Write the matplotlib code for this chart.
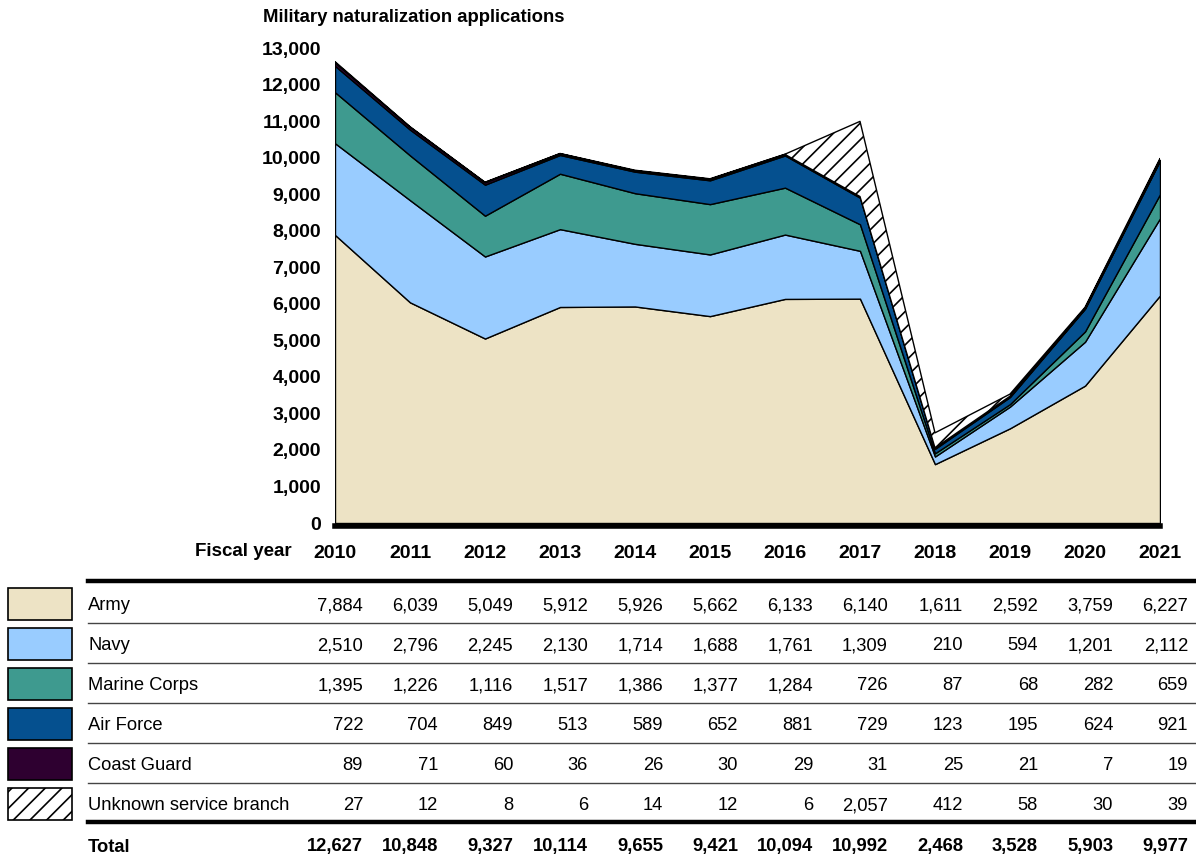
import matplotlib
matplotlib.use("Agg")
import matplotlib.pyplot as plt
from matplotlib.patches import Rectangle
import numpy as np

plt.rcParams['font.family'] = ['Liberation Sans', 'DejaVu Sans']
plt.rcParams['hatch.linewidth'] = 1.2

years = [2010, 2011, 2012, 2013, 2014, 2015, 2016, 2017, 2018, 2019, 2020, 2021]
branches = ["Army", "Navy", "Marine Corps", "Air Force", "Coast Guard", "Unknown service branch"]
army = [7884, 6039, 5049, 5912, 5926, 5662, 6133, 6140, 1611, 2592, 3759, 6227]
navy = [2510, 2796, 2245, 2130, 1714, 1688, 1761, 1309, 210, 594, 1201, 2112]
marine = [1395, 1226, 1116, 1517, 1386, 1377, 1284, 726, 87, 68, 282, 659]
airforce = [722, 704, 849, 513, 589, 652, 881, 729, 123, 195, 624, 921]
coastguard = [89, 71, 60, 36, 26, 30, 29, 31, 25, 21, 7, 19]
unknown = [27, 12, 8, 6, 14, 12, 6, 2057, 412, 58, 30, 39]
totals = [12627, 10848, 9327, 10114, 9655, 9421, 10094, 10992, 2468, 3528, 5903, 9977]
yticks = list(range(0, 13001, 1000))

colors = ["#EDE3C5", "#99CCFF", "#3E9A8F", "#05508F", "#2E0030", "white"]
hatches = [None, None, None, None, None, "//"]
series = [army, navy, marine, airforce, coastguard, unknown]

W, H = 1196, 858
fig = plt.figure(figsize=(W / 100, H / 100), dpi=100)

def fx(px):
    return px / W

def fy(py):
    return 1 - py / H

ax = fig.add_axes([fx(335), fy(523), fx(1160) - fx(335), fy(48) - fy(523)])
polys = ax.stackplot(years, *series, colors=colors, edgecolor="black", linewidth=1.0)
for p, h in zip(polys, hatches):
    if h:
        p.set_hatch(h)
for s in ["top", "right", "left"]:
    ax.spines[s].set_visible(False)
ax.spines["bottom"].set_linewidth(4)
ax.spines["bottom"].set_position(("outward", 2))
ax.set_xlim(2010, 2021)
ax.set_ylim(0, 13000)
ax.set_yticks(yticks)
ax.set_yticklabels([f"{v:,}" for v in yticks], fontsize=14, fontweight="bold")
ax.set_xticks(years)
ax.set_xticklabels([str(y) for y in years], fontsize=14, fontweight="bold")
ax.tick_params(axis="y", length=0, pad=10)
ax.tick_params(axis="x", length=0, pad=13.5)

fig.text(fx(263), fy(18), "Military naturalization applications", fontsize=13.3,
         fontweight="bold", ha="left", va="center")
fig.text(fx(292), fy(552), "Fiscal year", fontsize=13.5, fontweight="bold",
         ha="right", va="center")

# table
row_y = [604, 644, 684, 724, 764, 804]
col_x = [363 + 75 * i for i in range(len(years))]
fs = 13.2
dy = 2
fig.add_artist(plt.Line2D([fx(88), fx(1196)], [fy(581), fy(581)], color="black", lw=3.2))
for i, (name, vals) in enumerate(zip(branches, series)):
    y = row_y[i]
    r = Rectangle((fx(8), fy(y + 16)), fx(64), fy(y - 16) - fy(y + 16),
                  facecolor=colors[i], edgecolor="black", lw=1.2,
                  hatch=hatches[i], transform=fig.transFigure)
    fig.add_artist(r)
    fig.text(fx(88), fy(y + dy), name, fontsize=fs, ha="left", va="center")
    for cx, v in zip(col_x, vals):
        fig.text(fx(cx), fy(y + dy), f"{v:,}", fontsize=fs, ha="right", va="center")
    if i < len(branches) - 1:
        ly = y + 19
        fig.add_artist(plt.Line2D([fx(88), fx(1196)], [fy(ly), fy(ly)], color="#444444", lw=1.0))
fig.add_artist(plt.Line2D([fx(88), fx(1196)], [fy(822), fy(822)], color="black", lw=3.2))
fig.text(fx(88), fy(845 + dy), "Total", fontsize=fs, fontweight="bold", ha="left", va="center")
for cx, v in zip(col_x, totals):
    fig.text(fx(cx), fy(845 + dy), f"{v:,}", fontsize=fs, fontweight="bold", ha="right", va="center")

fig.savefig("out.png", dpi=100)
